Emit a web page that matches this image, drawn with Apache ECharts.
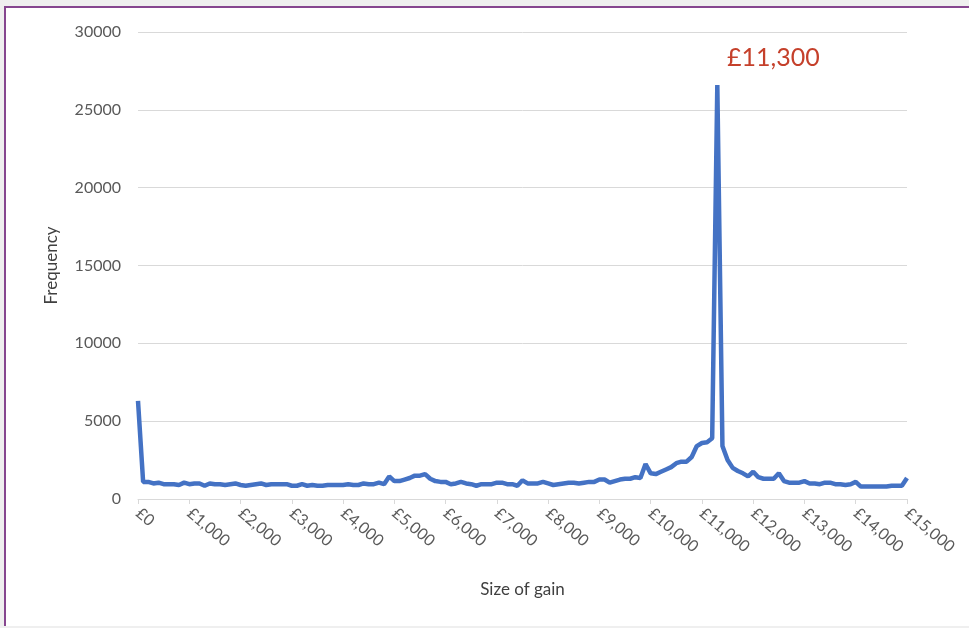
<!DOCTYPE html>
<html>
<head>
<meta charset="utf-8">
<script src="https://cdn.jsdelivr.net/npm/echarts@6/dist/echarts.min.js"></script>
<style>
html,body{margin:0;padding:0;background:#efefef;width:969px;height:628px;overflow:hidden;}
#frame{position:absolute;left:4px;top:6px;width:975px;height:618px;background:#fff;border-left:2px solid #86468f;border-top:2px solid #86468f;}
#chart{position:absolute;left:-6px;top:-8px;width:969px;height:628px;}
</style>
</head>
<body>
<div id="frame"><div id="chart"></div></div>
<script>
const gains = [
 0,100,200,300,400,500,600,700,800,900,
 1000,1100,1200,1300,1400,1500,1600,1700,1800,1900,
 2000,2100,2200,2300,2400,2500,2600,2700,2800,2900,
 3000,3100,3200,3300,3400,3500,3600,3700,3800,3900,
 4000,4100,4200,4300,4400,4500,4600,4700,4800,4900,
 5000,5100,5200,5300,5400,5500,5600,5700,5800,5900,
 6000,6100,6200,6300,6400,6500,6600,6700,6800,6900,
 7000,7100,7200,7300,7400,7500,7600,7700,7800,7900,
 8000,8100,8200,8300,8400,8500,8600,8700,8800,8900,
 9000,9100,9200,9300,9400,9500,9600,9700,9800,9900,
 10000,10100,10200,10300,10400,10500,10600,10700,10800,10900,
 11000,11100,11200,11300,11400,11500,11600,11700,11800,11900,
 12000,12100,12200,12300,12400,12500,12600,12700,12800,12900,
 13000,13100,13200,13300,13400,13500,13600,13700,13800,13900,
 14000,14100,14200,14300,14400,14500,14600,14700,14800,14900,
 15000
];
const frequency = [
 6300,1100,1100,1000,1050,950,950,950,900,1050,
 950,1000,1000,850,1000,950,950,900,950,1000,
 900,850,900,950,1000,900,950,950,950,950,
 850,850,950,850,900,850,850,900,900,900,
 900,950,900,900,1000,950,950,1050,950,1450,
 1150,1150,1250,1350,1500,1500,1600,1300,1150,1100,
 1100,950,1000,1100,1000,950,850,950,950,950,
 1050,1050,950,950,850,1200,1000,1000,1000,1100,
 1000,900,950,1000,1050,1050,1000,1050,1100,1100,
 1250,1250,1050,1150,1250,1300,1300,1400,1350,2250,
 1650,1600,1750,1900,2050,2300,2400,2400,2700,3400,
 3600,3650,3900,26600,3400,2500,2000,1800,1650,1450,
 1750,1400,1300,1300,1300,1650,1150,1050,1050,1050,
 1150,1000,1000,950,1050,1050,950,950,900,950,
 1100,800,800,800,800,800,800,850,850,850,
 1350
];
const yTicks = [0, 5000, 10000, 15000, 20000, 25000, 30000];
const peakLabel = '£11,300';
const peakGain = 11300;

const categories = gains.map(g => '£' + g.toLocaleString('en-GB'));
const font = 'Lato, "Open Sans", sans-serif';
const chart = echarts.init(document.getElementById('chart'));
chart.setOption({
  animation: false,
  backgroundColor: 'transparent',
  grid: {left: 138, right: 62, top: 32, bottom: 129},
  xAxis: {
    type: 'category',
    data: categories,
    boundaryGap: false,
    name: 'Size of gain',
    nameLocation: 'middle',
    nameGap: 82,
    nameTextStyle: {color: '#404040', fontSize: 17, fontFamily: font},
    axisLine: {lineStyle: {color: '#d9d9d9', width: 1}},
    axisTick: {show: true, interval: 9, length: 5, lineStyle: {color: '#d9d9d9'}},
    axisLabel: {interval: 9, rotate: -40, color: '#595959', fontSize: 16, fontFamily: font, margin: 12},
    splitLine: {show: false}
  },
  yAxis: {
    type: 'value',
    min: yTicks[0],
    max: yTicks[yTicks.length - 1],
    interval: 5000,
    name: 'Frequency',
    nameLocation: 'middle',
    nameGap: 78,
    nameTextStyle: {color: '#404040', fontSize: 17, fontFamily: font},
    axisLine: {show: false},
    axisTick: {show: false},
    axisLabel: {color: '#595959', fontSize: 16, fontFamily: font, margin: 17, formatter: v => String(v)},
    splitLine: {lineStyle: {color: '#d9d9d9', width: 1}}
  },
  series: [{
    type: 'line',
    data: frequency,
    showSymbol: false,
    lineStyle: {color: '#4472c4', width: 4.5},
    itemStyle: {color: '#4472c4'},
    markPoint: {
      symbol: 'circle',
      symbolSize: 0,
      data: [{coord: [gains.indexOf(peakGain), frequency[gains.indexOf(peakGain)]]}],
      label: {
        show: true,
        formatter: peakLabel,
        color: '#c5402b',
        fontSize: 25,
        fontFamily: font,
        offset: [56, -27]
      }
    }
  }]
});
</script>
</body>
</html>
